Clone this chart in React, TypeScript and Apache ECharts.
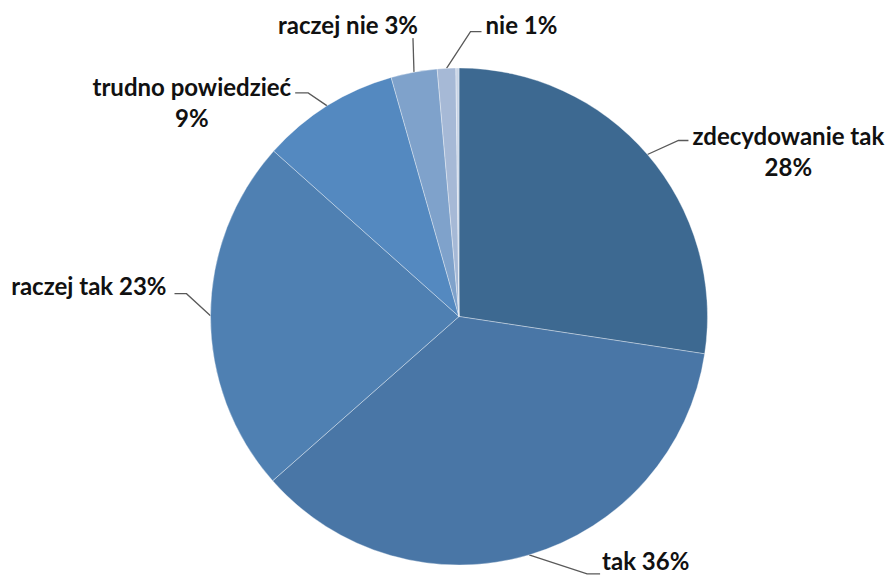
import React, { useEffect, useRef } from 'react';
import * as echarts from 'echarts';

// ---- data ----
const categories = ['zdecydowanie tak', 'tak', 'raczej tak', 'trudno powiedzieć', 'raczej nie', 'nie', ''];
const values = [27.4, 36.1, 23.1, 9.0, 3.0, 1.2, 0.2];
const percentLabels = ['28%', '36%', '23%', '9%', '3%', '1%', ''];

// ---- styles ----
const sliceColors = ['#3d6991', '#4976a6', '#4f80b2', '#5489c0', '#7fa2cb', '#a6b9d6', '#c8d4e6'];
const twoLineLabel = [true, false, false, true, false, false, false];
// leader line shape relative to the slice anchor given by ECharts
const leaders = [
  { elbow: [31, -14], run: 10, gap: 4, align: 'left', dy: 10 },
  { elbow: [58, 19], run: 13, gap: 2, align: 'left', dy: -13 },
  { elbow: [-24, -22], run: -12, gap: -8, align: 'right', dy: -8 },
  { elbow: [-19, -13], run: -13, gap: -4, align: 'right', dy: 9.3 },
  { elbow: [-1, -34], run: 0, gap: 5, align: 'right', dy: -14 },
  { elbow: [24, -36.6], run: 11, gap: 4, align: 'left', dy: -7.5 },
];

const FONT = 'Lato, "Noto Sans", sans-serif';

export default function App() {
  const ref = useRef<HTMLDivElement>(null);
  useEffect(() => {
    if (!ref.current) return;
    const chart = echarts.init(ref.current, undefined, { renderer: 'svg' });
    const data = categories.map((name, i) => {
      const item: any = {
        name,
        value: values[i],
        itemStyle: { color: sliceColors[i] },
      };
      if (!percentLabels[i]) {
        item.label = { show: false };
        item.labelLine = { show: false };
      }
      return item;
    });
    const textStyle = {
      fontFamily: FONT,
      fontWeight: 'bold',
      fontSize: 24,
      color: '#111111',
      align: 'center',
    };
    chart.setOption({
      animation: false,
      backgroundColor: '#ffffff',
      series: [
        {
          type: 'pie',
          center: [459, 316.5],
          radius: 248.5,
          startAngle: 90,
          clockwise: true,
          avoidLabelOverlap: false,
          emphasis: { disabled: true },
          itemStyle: { borderColor: 'rgba(255,255,255,0.35)', borderWidth: 1 },
          label: {
            show: true,
            position: 'outside',
            formatter: (p: any) => {
              const i = p.dataIndex;
              return twoLineLabel[i]
                ? `{c|${categories[i]}}\n{c|${percentLabels[i]}}`
                : `{s|${categories[i]} ${percentLabels[i]}}`;
            },
            rich: {
              c: { ...textStyle, lineHeight: 31 },
              s: { ...textStyle, lineHeight: 22 },
            },
          },
          labelLine: {
            show: true,
            length: 20,
            length2: 10,
            lineStyle: { color: '#595959', width: 1.3 },
          },
          labelLayout: (params: any) => {
            const i = params.dataIndex;
            const L = leaders[i];
            const pts = params.labelLinePoints;
            if (!L || !pts) return {};
            const a = pts[0];
            const elbow = [a[0] + L.elbow[0], a[1] + L.elbow[1]];
            const end = [elbow[0] + L.run, elbow[1]];
            return {
              x: end[0] + L.gap,
              y: end[1] + L.dy,
              align: L.align,
              verticalAlign: 'middle',
              labelLinePoints: [a, elbow, end],
            };
          },
          data,
        },
      ],
    });
    return () => chart.dispose();
  }, []);
  return (
    <div
      ref={ref}
      style={{ position: 'fixed', left: 0, top: 0, width: 896, height: 577, background: '#fff' }}
    />
  );
}
